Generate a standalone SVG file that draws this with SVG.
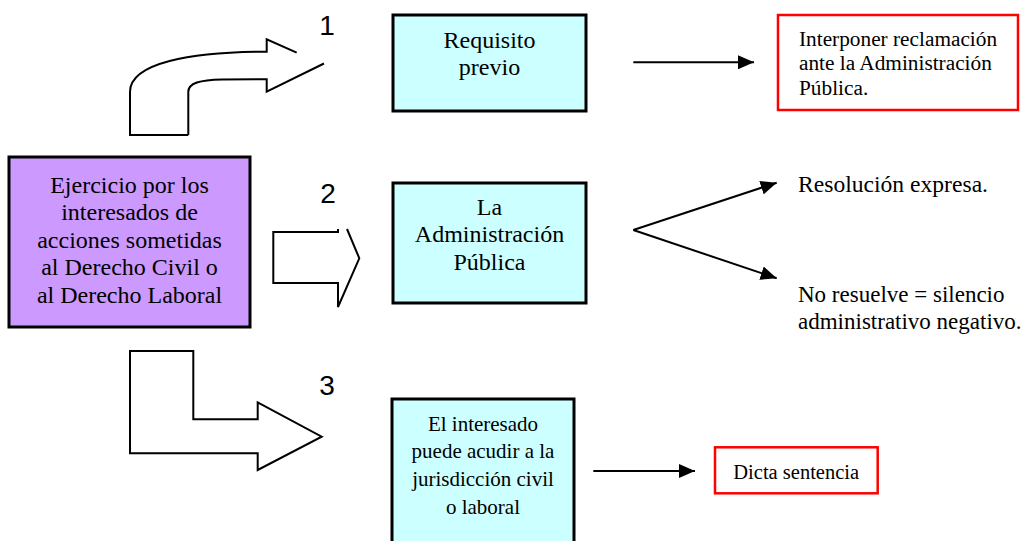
<svg xmlns="http://www.w3.org/2000/svg" width="1031" height="541" viewBox="0 0 1031 541">
  <style>
    .box { stroke: #000; stroke-width: 3; }
    .cyan { fill: #CCFFFF; }
    .purple { fill: #CC99FF; }
    .red { fill: #FFFFFF; stroke: #FF0000; stroke-width: 2.5; }
    .t { font-family: "Liberation Serif", "Times New Roman", serif; fill: #000; }
    .c { text-anchor: middle; }
    .num { font-family: "Liberation Sans", Arial, sans-serif; font-size: 28px; fill: #000; text-anchor: middle; }
    .shape { fill: #FFFFFF; stroke: #000; stroke-width: 2; stroke-linejoin: miter; }
    .open { fill: none; stroke: #000; stroke-width: 2; }
    .conn { stroke: #000; stroke-width: 2; fill: none; marker-end: url(#ah); }
  </style>
  <defs>
    <marker id="ah" markerUnits="userSpaceOnUse" markerWidth="16" markerHeight="14" refX="16" refY="7" orient="auto">
      <path d="M0,0 L16,7 L0,14 z" fill="#000"/>
    </marker>
  </defs>
  <rect width="1031" height="541" fill="#FFFFFF"/>

  <g id="origen">
    <rect class="box purple" x="9" y="157" width="241" height="170"/>
    <text class="t c" font-size="24" x="129.5" y="192.7">Ejercicio por los</text>
    <text class="t c" font-size="24" x="129.5" y="220.2">interesados de</text>
    <text class="t c" font-size="24" x="129.5" y="247.7">acciones sometidas</text>
    <text class="t c" font-size="24" x="129.5" y="275.2">al Derecho Civil o</text>
    <text class="t c" font-size="24" x="129.5" y="302.7">al Derecho Laboral</text>
  </g>

  <g id="flecha1">
    <path class="open" d="M188.3,135 L130,135 L130,92 C130,63 190,52 266.7,51.7 L266.7,39.3 L296.7,52.7"/>
    <path class="open" d="M324,63.5 L266.7,91.7 L266.7,79.3 L222,79.5 C200,80 188.3,83 188.3,92 L188.3,135"/>
    <text class="num" x="327" y="35">1</text>
  </g>

  <g id="flecha2">
    <path class="open" d="M338,229 L338,232 L273.3,232 L273.3,283 L338,283 L338,307 L359.3,258.3 L347,229"/>
    <text class="num" x="328" y="203">2</text>
  </g>

  <g id="flecha3">
    <path class="shape" d="M130,351 L193.3,351 L193.3,419.3 L257.7,419.3 L257.7,402.3 L321.7,436.7 L257.7,470 L257.7,453.3 L130,453.3 Z"/>
    <text class="num" x="327" y="395">3</text>
  </g>

  <g id="requisito">
    <rect class="box cyan" x="393" y="15" width="193" height="96"/>
    <text class="t c" font-size="24" x="489.5" y="48.3">Requisito</text>
    <text class="t c" font-size="24" x="489.5" y="75">previo</text>
  </g>

  <g id="administracion">
    <rect class="box cyan" x="393" y="183" width="193" height="120"/>
    <text class="t c" font-size="24" x="489.5" y="214.5">La</text>
    <text class="t c" font-size="24" x="489.5" y="242">Administración</text>
    <text class="t c" font-size="24" x="489.5" y="269.5">Pública</text>
  </g>

  <g id="interesado">
    <rect class="box cyan" x="392" y="399" width="182" height="150"/>
    <text class="t c" font-size="21" x="483" y="430.5">El interesado</text>
    <text class="t c" font-size="21" x="483" y="458.3">puede acudir a la</text>
    <text class="t c" font-size="21" x="483" y="486.1">jurisdicción civil</text>
    <text class="t c" font-size="21" x="483" y="513.9">o laboral</text>
  </g>

  <g id="reclamacion">
    <rect class="red" x="778" y="15" width="240" height="95"/>
    <text class="t" font-size="21.3" x="799" y="45.7">Interponer reclamación</text>
    <text class="t" font-size="21.3" x="799" y="70.3">ante la Administración</text>
    <text class="t" font-size="21.3" x="799" y="95">Pública.</text>
  </g>

  <g id="resolucion">
    <text class="t" font-size="23.6" x="798" y="191.7">Resolución expresa.</text>
  </g>

  <g id="silencio">
    <text class="t" font-size="23" x="798" y="301.5">No resuelve = silencio</text>
    <text class="t" font-size="23" x="798" y="328.5">administrativo negativo.</text>
  </g>

  <g id="sentencia">
    <rect class="red" x="715" y="447.3" width="162.7" height="46"/>
    <text class="t" font-size="20.5" x="733.3" y="479">Dicta sentencia</text>
  </g>

  <g id="conectores">
    <line class="conn" x1="633.3" y1="62.3" x2="754" y2="62.3"/>
    <line class="conn" x1="633.3" y1="230" x2="776.7" y2="182.7"/>
    <line class="conn" x1="633.3" y1="230" x2="776.7" y2="278.3"/>
    <line class="conn" x1="593.3" y1="471" x2="695" y2="471"/>
  </g>
</svg>
